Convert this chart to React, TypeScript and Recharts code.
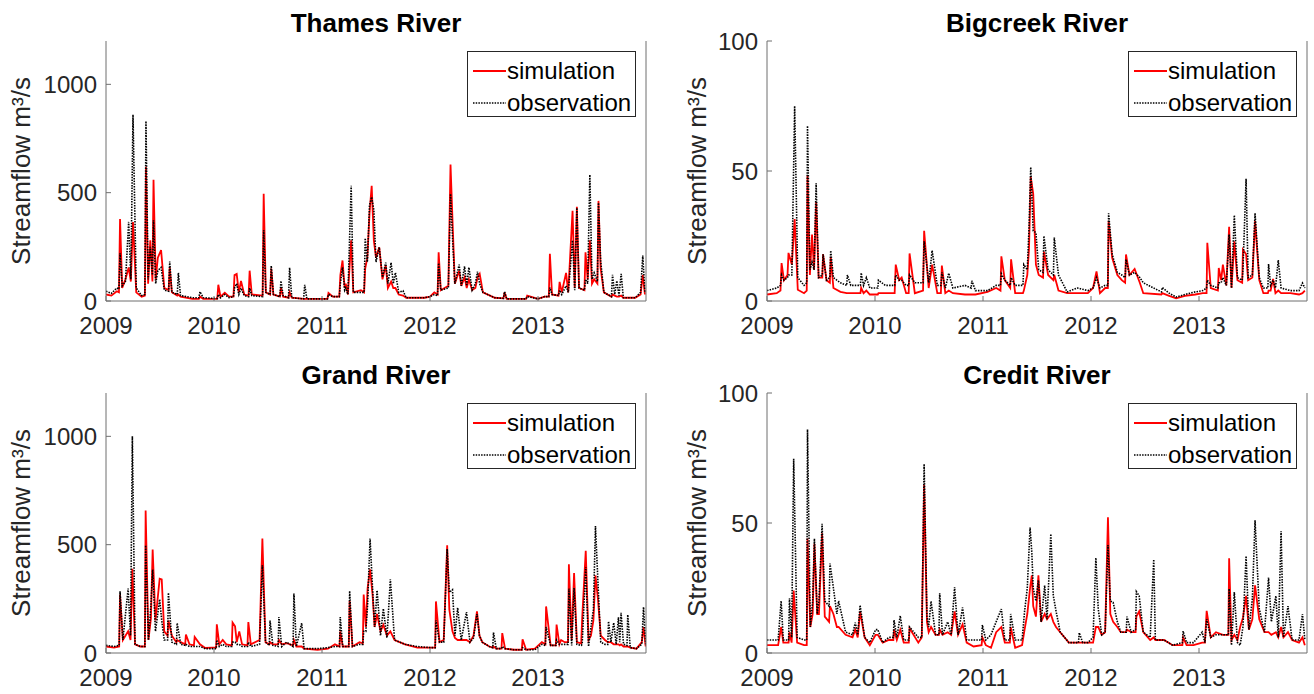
import { LineChart, Line, XAxis, YAxis, Legend } from "recharts"

// decimal years
const yearTicks = [2009, 2010, 2011, 2012, 2013]
const bigTicks = [0, 500, 1000]
const smallTicks = [0, 50, 100]
const legendOrder = ["simulation", "observation"]

const thamesT = [
  2009.00, 2009.05, 2009.10, 2009.12, 2009.13, 2009.15, 2009.18, 2009.21, 2009.23, 2009.25,
  2009.28, 2009.33, 2009.36, 2009.37, 2009.39, 2009.41, 2009.43, 2009.44, 2009.46, 2009.48,
  2009.51, 2009.54, 2009.58, 2009.59, 2009.61, 2009.66, 2009.67, 2009.69, 2009.80, 2009.86,
  2009.87, 2009.90, 2010.00, 2010.03, 2010.04, 2010.06, 2010.10, 2010.14, 2010.18, 2010.19,
  2010.21, 2010.23, 2010.25, 2010.28, 2010.32, 2010.33, 2010.35, 2010.45, 2010.46, 2010.48,
  2010.52, 2010.53, 2010.55, 2010.61, 2010.62, 2010.64, 2010.69, 2010.70, 2010.72, 2010.83,
  2010.84, 2010.86, 2011.00, 2011.05, 2011.06, 2011.10, 2011.16, 2011.17, 2011.19, 2011.21,
  2011.22, 2011.24, 2011.27, 2011.29, 2011.36, 2011.39, 2011.40, 2011.42, 2011.44, 2011.46,
  2011.48, 2011.50, 2011.53, 2011.56, 2011.59, 2011.61, 2011.64, 2011.66, 2011.68, 2011.71,
  2011.75, 2011.78, 2011.95, 2012.00, 2012.04, 2012.07, 2012.08, 2012.10, 2012.17, 2012.19,
  2012.21, 2012.23, 2012.27, 2012.29, 2012.32, 2012.34, 2012.36, 2012.39, 2012.42, 2012.44,
  2012.46, 2012.49, 2012.60, 2012.68, 2012.69, 2012.71, 2012.85, 2012.89, 2012.90, 2013.00,
  2013.06, 2013.10, 2013.11, 2013.13, 2013.19, 2013.20, 2013.22, 2013.26, 2013.28, 2013.32,
  2013.34, 2013.36, 2013.38, 2013.43, 2013.44, 2013.46, 2013.48, 2013.50, 2013.52, 2013.55,
  2013.56, 2013.58, 2013.61, 2013.68, 2013.69, 2013.71, 2013.73, 2013.75, 2013.77, 2013.79,
  2013.90, 2013.95, 2013.97, 2013.99,
]
const thamesSim = [
  30, 25, 45, 40, 378, 60, 100, 155, 90, 364,
  40, 20, 25, 620, 80, 280, 90, 560, 100, 200,
  235, 60, 50, 155, 40, 25, 30, 20, 10, 10,
  20, 10, 10, 10, 75, 20, 38, 20, 20, 120,
  125, 40, 93, 30, 25, 140, 30, 25, 495, 40,
  30, 150, 30, 20, 60, 20, 15, 40, 15, 10,
  10, 10, 10, 10, 37, 20, 20, 120, 187, 60,
  80, 30, 280, 40, 50, 40, 150, 200, 405, 532,
  280, 200, 248, 100, 165, 60, 90, 60, 60, 30,
  25, 15, 15, 20, 40, 30, 225, 50, 70, 630,
  350, 80, 140, 70, 110, 60, 100, 50, 60, 108,
  125, 40, 15, 12, 40, 10, 10, 10, 25, 10,
  20, 20, 218, 30, 25, 88, 40, 130, 40, 416,
  60, 435, 60, 50, 225, 100, 280, 80, 100, 80,
  462, 150, 40, 20, 30, 25, 20, 20, 25, 15,
  15, 30, 120, 30,
]
const thamesObs = [
  45, 35, 60, 55, 220, 70, 90, 365, 100, 860,
  60, 25, 30, 830, 100, 250, 120, 373, 80, 140,
  155, 50, 45, 182, 40, 30, 130, 25, 15, 15,
  43, 15, 12, 12, 30, 15, 30, 15, 20, 60,
  80, 30, 60, 25, 20, 60, 25, 20, 327, 40,
  30, 163, 30, 20, 93, 25, 15, 154, 15, 10,
  75, 10, 10, 10, 30, 20, 20, 80, 155, 50,
  60, 30, 532, 40, 40, 40, 290, 180, 443, 480,
  420, 180, 248, 110, 177, 80, 177, 80, 131, 40,
  47, 15, 15, 20, 30, 25, 175, 50, 60, 495,
  280, 80, 168, 70, 160, 70, 155, 50, 80, 136,
  80, 40, 15, 12, 43, 10, 10, 10, 20, 10,
  20, 20, 62, 30, 25, 50, 30, 70, 40, 280,
  50, 430, 60, 50, 100, 80, 583, 100, 130, 90,
  453, 187, 40, 20, 121, 30, 93, 25, 125, 15,
  15, 40, 210, 40,
]

const bigcreekT = [
  2009.000, 2009.090, 2009.125, 2009.135, 2009.157, 2009.190, 2009.199, 2009.230, 2009.256, 2009.285,
  2009.343, 2009.368, 2009.375, 2009.397, 2009.417, 2009.436, 2009.455, 2009.478, 2009.512, 2009.519,
  2009.551, 2009.582, 2009.590, 2009.615, 2009.680, 2009.738, 2009.744, 2009.776, 2009.865, 2009.872,
  2009.894, 2009.920, 2009.952, 2010.026, 2010.032, 2010.096, 2010.182, 2010.192, 2010.224, 2010.247,
  2010.288, 2010.312, 2010.320, 2010.369, 2010.445, 2010.455, 2010.497, 2010.529, 2010.577, 2010.610,
  2010.619, 2010.651, 2010.683, 2010.721, 2010.833, 2010.890, 2010.897, 2010.930, 2011.042, 2011.122,
  2011.162, 2011.170, 2011.202, 2011.252, 2011.260, 2011.298, 2011.370, 2011.378, 2011.410, 2011.426,
  2011.442, 2011.465, 2011.490, 2011.516, 2011.556, 2011.564, 2011.603, 2011.652, 2011.660, 2011.699,
  2011.779, 2011.875, 2011.971, 2012.019, 2012.051, 2012.083, 2012.131, 2012.156, 2012.163, 2012.196,
  2012.244, 2012.285, 2012.316, 2012.324, 2012.356, 2012.404, 2012.452, 2012.484, 2012.652, 2012.660,
  2012.724, 2012.788, 2012.869, 2012.965, 2013.035, 2013.070, 2013.077, 2013.109, 2013.175, 2013.183,
  2013.205, 2013.221, 2013.253, 2013.279, 2013.301, 2013.327, 2013.356, 2013.400, 2013.407, 2013.436,
  2013.455, 2013.494, 2013.519, 2013.558, 2013.596, 2013.638, 2013.644, 2013.663, 2013.686, 2013.708,
  2013.734, 2013.760, 2013.846, 2013.926, 2013.958, 2013.980,
]
const bigcreekSim = [
  2.5, 3, 4, 14.6, 8, 10, 18.5, 14, 31.5, 4.3,
  3, 4, 48.3, 10, 25.6, 12, 38.2, 9, 9, 18,
  8, 7, 17, 5, 3.5, 3, 3, 3, 3, 5,
  3, 4, 2.5, 2.5, 3, 3, 3, 14, 8, 9,
  3, 3, 18.3, 3, 4, 27, 5, 14, 3, 3,
  13.6, 3, 4, 3, 2.5, 2.5, 2.5, 2.5, 3.5, 5,
  4, 17.2, 8, 5, 16, 3, 3, 4, 10, 20,
  47.7, 41.2, 14, 10, 9, 19, 10, 8, 10, 4,
  3, 3, 3, 5, 11.4, 3, 5, 5, 30.8, 16.6,
  10, 8, 7, 17.9, 10, 12.3, 7, 3, 2.5, 3,
  2, 1, 2, 2.5, 3, 3, 22.4, 5, 4, 12.7,
  8, 14, 6, 28.5, 5, 23, 8, 7, 19.8, 18,
  8, 9, 30.8, 8, 3, 3, 4, 4, 8.5, 3,
  4, 3, 3, 2.5, 3, 4,
]
const bigcreekObs = [
  4, 5, 6, 10, 8, 9, 10, 10, 75, 9,
  6, 7, 67.4, 12, 15, 12, 45.3, 9, 10, 18,
  8, 9, 19.4, 9, 7, 6, 10, 6, 6, 10.8,
  6, 9, 5, 5, 8, 6, 6, 10, 8, 8,
  6, 6, 10, 7, 7, 23, 7, 19.4, 6, 6,
  11, 5, 10.7, 5, 6, 5, 7.8, 4, 4, 6,
  6, 10.5, 8, 6, 9, 6, 6, 14, 12, 28,
  51.5, 27, 26.3, 12, 11, 25, 12, 10, 24.4, 10,
  3.5, 5, 4, 5, 9, 5, 6, 6, 33.7, 18,
  11, 10, 9, 16, 10, 11, 9, 7, 3.5, 5.2,
  3, 1.5, 2.5, 3.5, 4, 5, 8, 6, 5, 7,
  7, 9, 6, 25.6, 5, 33, 9, 8, 12, 47,
  9, 10, 33.8, 9, 5, 5, 14.2, 6, 8, 5,
  15.7, 5, 4, 4, 6.9, 5,
]

const grandT = [
  2009.000, 2009.075, 2009.122, 2009.130, 2009.156, 2009.205, 2009.227, 2009.244, 2009.269, 2009.318,
  2009.360, 2009.367, 2009.393, 2009.416, 2009.432, 2009.458, 2009.497, 2009.516, 2009.539, 2009.570,
  2009.578, 2009.610, 2009.652, 2009.659, 2009.692, 2009.733, 2009.740, 2009.773, 2009.814, 2009.821,
  2009.870, 2009.919, 2009.984, 2010.020, 2010.026, 2010.049, 2010.081, 2010.114, 2010.165, 2010.172,
  2010.195, 2010.211, 2010.234, 2010.260, 2010.310, 2010.318, 2010.341, 2010.422, 2010.448, 2010.477,
  2010.512, 2010.519, 2010.545, 2010.594, 2010.601, 2010.627, 2010.672, 2010.732, 2010.740, 2010.763,
  2010.812, 2010.834, 2010.958, 2011.055, 2011.120, 2011.162, 2011.169, 2011.192, 2011.248, 2011.256,
  2011.282, 2011.347, 2011.378, 2011.386, 2011.406, 2011.422, 2011.445, 2011.468, 2011.487, 2011.510,
  2011.542, 2011.568, 2011.601, 2011.633, 2011.672, 2011.769, 2011.883, 2011.997, 2012.048, 2012.055,
  2012.088, 2012.127, 2012.159, 2012.179, 2012.208, 2012.231, 2012.256, 2012.289, 2012.338, 2012.370,
  2012.403, 2012.435, 2012.458, 2012.484, 2012.549, 2012.581, 2012.588, 2012.614, 2012.662, 2012.669,
  2012.695, 2012.776, 2012.850, 2012.857, 2012.890, 2012.971, 2013.036, 2013.068, 2013.075, 2013.117,
  2013.165, 2013.172, 2013.198, 2013.214, 2013.247, 2013.278, 2013.286, 2013.312, 2013.334, 2013.360,
  2013.400, 2013.409, 2013.442, 2013.468, 2013.490, 2013.513, 2013.532, 2013.555, 2013.581, 2013.620,
  2013.646, 2013.653, 2013.675, 2013.701, 2013.724, 2013.745, 2013.757, 2013.769, 2013.792, 2013.824,
  2013.831, 2013.854, 2013.912, 2013.961, 2013.977, 2013.997,
]
const grandSim = [
  30, 25, 30, 270, 60, 100, 60, 389, 40, 30,
  30, 658, 60, 160, 478, 150, 343, 340, 100, 80,
  150, 80, 50, 60, 50, 40, 85, 40, 35, 74,
  40, 23, 25, 25, 132, 40, 60, 40, 35, 140,
  123, 50, 100, 40, 35, 143, 40, 60, 528, 50,
  40, 50, 40, 40, 60, 40, 45, 35, 60, 30,
  30, 20, 15, 20, 40, 30, 100, 30, 30, 240,
  30, 50, 45, 270, 120, 297, 386, 270, 120, 180,
  100, 130, 80, 100, 60, 40, 25, 25, 25, 238,
  50, 60, 497, 200, 100, 70, 60, 60, 60, 50,
  80, 192, 80, 50, 30, 25, 30, 20, 20, 92,
  20, 15, 15, 63, 15, 20, 50, 40, 215, 35,
  35, 131, 40, 60, 50, 50, 409, 60, 369, 50,
  45, 158, 472, 60, 80, 150, 358, 250, 80, 60,
  50, 50, 50, 40, 40, 40, 35, 40, 30, 30,
  30, 25, 20, 50, 120, 30,
]
const grandObs = [
  35, 30, 35, 285, 60, 297, 80, 1000, 40, 30,
  30, 497, 60, 220, 385, 100, 248, 150, 60, 60,
  278, 50, 40, 138, 40, 35, 40, 30, 30, 30,
  30, 20, 20, 20, 60, 30, 40, 30, 30, 50,
  50, 40, 40, 30, 30, 50, 30, 40, 405, 50,
  35, 150, 35, 30, 166, 30, 50, 30, 274, 30,
  138, 20, 20, 25, 30, 30, 166, 30, 30, 286,
  30, 40, 40, 100, 100, 220, 528, 300, 120, 289,
  80, 205, 70, 340, 60, 40, 30, 25, 25, 150,
  50, 50, 480, 280, 292, 80, 209, 60, 189, 50,
  70, 180, 80, 50, 30, 25, 94, 20, 20, 30,
  20, 15, 15, 25, 15, 15, 40, 35, 120, 35,
  35, 60, 40, 40, 40, 40, 297, 35, 300, 40,
  35, 40, 397, 30, 120, 200, 586, 328, 50, 40,
  40, 146, 50, 140, 40, 165, 50, 186, 40, 35,
  177, 25, 20, 40, 212, 40,
]

const creditT = [
  2009.000, 2009.103, 2009.131, 2009.151, 2009.200, 2009.208, 2009.228, 2009.247, 2009.279, 2009.343,
  2009.368, 2009.375, 2009.401, 2009.423, 2009.439, 2009.465, 2009.481, 2009.510, 2009.535, 2009.575,
  2009.583, 2009.615, 2009.647, 2009.663, 2009.728, 2009.792, 2009.817, 2009.840, 2009.862, 2009.904,
  2009.952, 2010.006, 2010.026, 2010.071, 2010.128, 2010.170, 2010.176, 2010.202, 2010.234, 2010.266,
  2010.313, 2010.320, 2010.401, 2010.433, 2010.455, 2010.481, 2010.497, 2010.519, 2010.561, 2010.592,
  2010.599, 2010.625, 2010.673, 2010.705, 2010.737, 2010.769, 2010.811, 2010.849, 2010.913, 2010.987,
  2010.994, 2011.026, 2011.074, 2011.122, 2011.170, 2011.202, 2011.249, 2011.256, 2011.298, 2011.362,
  2011.385, 2011.410, 2011.436, 2011.452, 2011.465, 2011.490, 2011.513, 2011.538, 2011.571, 2011.593,
  2011.628, 2011.651, 2011.676, 2011.715, 2011.795, 2011.884, 2011.891, 2011.923, 2011.971, 2012.019,
  2012.045, 2012.067, 2012.099, 2012.131, 2012.157, 2012.179, 2012.205, 2012.244, 2012.276, 2012.326,
  2012.333, 2012.372, 2012.413, 2012.420, 2012.446, 2012.484, 2012.548, 2012.581, 2012.596, 2012.676,
  2012.756, 2012.846, 2012.853, 2012.885, 2012.949, 2013.029, 2013.055, 2013.071, 2013.109, 2013.157,
  2013.221, 2013.272, 2013.279, 2013.301, 2013.327, 2013.356, 2013.381, 2013.407, 2013.436, 2013.462,
  2013.494, 2013.519, 2013.558, 2013.606, 2013.644, 2013.670, 2013.712, 2013.734, 2013.760, 2013.782,
  2013.824, 2013.862, 2013.926, 2013.958, 2013.980,
]
const creditSim = [
  3, 3, 10, 4, 4, 8, 4, 24, 4, 3,
  3, 44, 10, 15, 42, 15, 15, 46, 14, 12,
  18, 15, 10, 10, 7, 6, 9, 6, 16, 6,
  3, 7, 7, 4, 5, 5, 9, 5, 9, 4,
  4, 9.5, 4, 6, 64.7, 12, 8, 10, 7, 7,
  9, 7, 8, 7, 16, 7, 11, 4, 2.5, 3,
  6, 3, 2, 8, 10, 4, 4, 10, 2, 3,
  9, 15, 25, 29.9, 18, 14, 29.9, 12, 15, 13,
  15, 12, 10, 8, 4, 4, 4, 4, 4, 4,
  10, 10, 7, 8, 52.2, 15, 12, 10, 8, 8,
  9, 8, 8, 14, 16, 8, 5, 6, 5, 5,
  3, 3, 6, 3, 3, 4, 4, 16.2, 6, 8,
  7, 7, 36.4, 5, 7, 5, 10, 13.6, 22, 9,
  13, 26, 13, 8, 8, 7, 8, 6, 10, 6,
  8, 5, 4, 6, 3,
]
const creditObs = [
  5, 5, 20, 5, 5, 21, 6, 74.7, 6, 5,
  5, 86, 10, 20, 44, 15, 20, 49.7, 20, 18,
  34.4, 25, 15, 20, 8, 7, 11.7, 7, 18.4, 6,
  4, 9, 9, 4, 6, 6, 12.7, 6, 14.3, 5,
  5, 10, 6, 6, 72.7, 14, 10, 19.9, 7, 7,
  23, 7, 12, 7, 25.3, 7, 17.5, 5, 5, 5,
  10.8, 5, 7, 12, 16.9, 5, 5, 15, 5, 5,
  16, 25, 48.3, 38.7, 25, 20, 28, 12, 26, 13,
  45.8, 22, 16.2, 8, 4, 4, 7.8, 4, 4, 6,
  36.6, 17, 7, 8, 41.5, 20, 19.5, 12, 8, 8,
  14, 8, 9, 23.6, 22, 8, 6, 36, 5, 5,
  3, 4, 8.4, 4, 4, 8, 4, 13, 6, 7,
  7, 7, 24.7, 3, 23.4, 4, 3, 10, 37.3, 9,
  20.8, 51, 17, 8, 29, 12, 22, 6, 46.8, 6,
  18, 5, 5, 15, 5,
]

const FONT = '"Liberation Sans", Arial, Helvetica, sans-serif'
const INK = "#262626"
const BOX = "#6f6f6f"

// plot area inside each panel: left 106, top 41, 540 x 260
const PANEL_W = 661
const PANEL_H = 346

function LegendBox(props: any) {
  const items = [...(props.payload || [])].sort(
    (a: any, b: any) => legendOrder.indexOf(a.value) - legendOrder.indexOf(b.value)
  )
  return (
    <div
      style={{
        boxSizing: "border-box",
        width: 169,
        height: 66,
        border: `1px solid ${INK}`,
        background: "#fff",
        position: "relative",
        fontFamily: FONT,
        fontSize: 24,
        color: "#000",
      }}
    >
      {items.map((item: any, i: number) => (
        <div
          key={item.value}
          style={{ position: "absolute", left: 0, top: 5 + i * 32, height: 28, lineHeight: "28px", display: "flex", whiteSpace: "nowrap" }}
        >
          <svg width={39} height={28} style={{ display: "block" }}>
            <line
              x1={5}
              x2={38}
              y1={14}
              y2={14}
              stroke={item.color}
              strokeWidth={item.payload?.strokeWidth ?? 1.5}
              strokeDasharray={item.payload?.strokeDasharray}
            />
          </svg>
          <span>{item.value}</span>
        </div>
      ))}
    </div>
  )
}

interface PanelProps {
  x: number
  y: number
  title: string
  t: number[]
  sim: number[]
  obs: number[]
  yMax: number
  yTicks: number[]
  labelX: number
}

function Panel({ x, y, title, t, sim, obs, yMax, yTicks, labelX }: PanelProps) {
  const data = t.map((v, i) => ({ t: v, sim: sim[i], obs: obs[i] }))
  const tickStyle = { fontSize: 24, fill: INK, fontFamily: FONT }
  return (
    <div style={{ position: "absolute", left: x, top: y, width: PANEL_W, height: PANEL_H }}>
      <div
        style={{
          position: "absolute",
          left: 106,
          top: 10,
          width: 540,
          textAlign: "center",
          fontFamily: FONT,
          fontWeight: 700,
          fontSize: 26,
          lineHeight: "26px",
          color: "#000",
        }}
      >
        {title}
      </div>
      <div
        style={{
          position: "absolute",
          left: labelX - 130,
          top: 171 - 13,
          width: 260,
          height: 26,
          lineHeight: "26px",
          textAlign: "center",
          fontFamily: FONT,
          fontSize: 26,
          color: INK,
          transform: "rotate(-90deg)",
          whiteSpace: "nowrap",
        }}
      >
        Streamflow m³/s
      </div>
      <div style={{ position: "absolute", left: 0, top: 0 }}>
        <LineChart width={PANEL_W} height={PANEL_H} data={data} margin={{ top: 41, right: 0, bottom: 0, left: 0 }}>
          <XAxis
            dataKey="t"
            type="number"
            domain={[2009, 2014]}
            ticks={yearTicks}
            interval={0}
            allowDataOverflow
            height={45}
            tickSize={-5}
            tickMargin={21}
            tick={tickStyle}
            axisLine={{ stroke: BOX }}
            tickLine={{ stroke: BOX }}
          />
          <XAxis
            xAxisId="top"
            orientation="top"
            dataKey="t"
            type="number"
            domain={[2009, 2014]}
            ticks={yearTicks}
            interval={0}
            allowDataOverflow
            height={0}
            tickSize={-5}
            tick={false}
            axisLine={{ stroke: BOX }}
            tickLine={{ stroke: BOX }}
          />
          <YAxis
            type="number"
            domain={[0, yMax]}
            ticks={yTicks}
            interval={0}
            allowDataOverflow
            width={106}
            tickSize={-5}
            tickMargin={14}
            tick={tickStyle}
            axisLine={{ stroke: BOX }}
            tickLine={{ stroke: BOX }}
          />
          <YAxis
            yAxisId="r"
            orientation="right"
            type="number"
            domain={[0, yMax]}
            ticks={yTicks}
            interval={0}
            allowDataOverflow
            width={15}
            tickSize={-5}
            tick={false}
            axisLine={{ stroke: BOX }}
            tickLine={{ stroke: BOX }}
          />
          <Line
            type="linear"
            dataKey="sim"
            name="simulation"
            stroke="#ff0000"
            strokeWidth={1.8}
            dot={false}
            isAnimationActive={false}
          />
          <Line
            type="linear"
            dataKey="obs"
            name="observation"
            stroke="#000000"
            strokeWidth={1.6}
            strokeDasharray="1.5 1.2"
            dot={false}
            isAnimationActive={false}
          />
          <Legend
            layout="vertical"
            align="center"
            verticalAlign="middle"
            wrapperStyle={{ top: 51, left: 467, width: 169, height: 66 }}
            content={LegendBox}
          />
        </LineChart>
      </div>
    </div>
  )
}

export default function App() {
  return (
    <div style={{ position: "absolute", left: 0, top: 0, width: 1314, height: 694, overflow: "hidden", background: "#fff" }}>
      <Panel x={0} y={0} title="Thames River" t={thamesT} sim={thamesSim} obs={thamesObs} yMax={1200} yTicks={bigTicks} labelX={21} />
      <Panel x={661} y={0} title="Bigcreek River" t={bigcreekT} sim={bigcreekSim} obs={bigcreekObs} yMax={100} yTicks={smallTicks} labelX={36} />
      <Panel x={0} y={352} title="Grand River" t={grandT} sim={grandSim} obs={grandObs} yMax={1200} yTicks={bigTicks} labelX={21} />
      <Panel x={661} y={352} title="Credit River" t={creditT} sim={creditSim} obs={creditObs} yMax={100} yTicks={smallTicks} labelX={36} />
    </div>
  )
}
